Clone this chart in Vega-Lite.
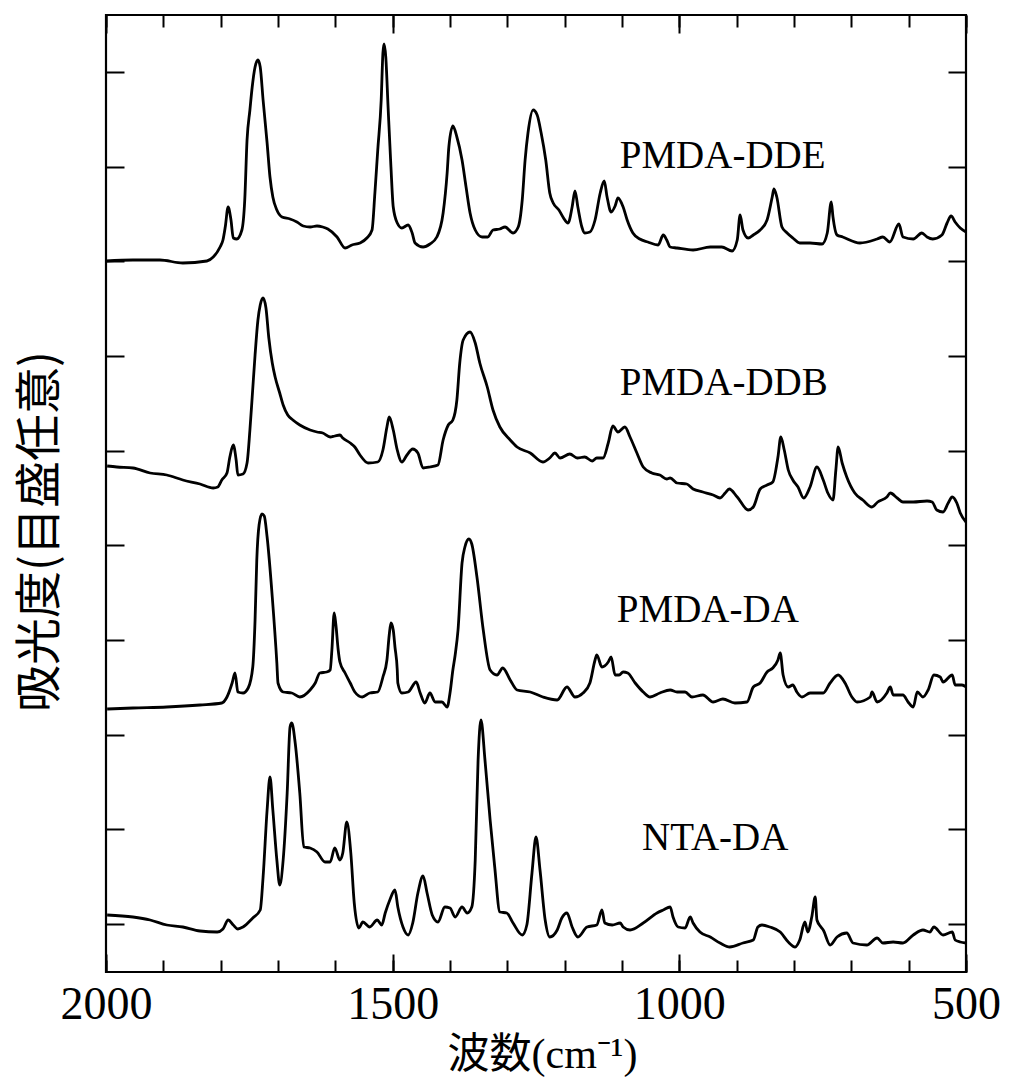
{
  "$schema": "https://vega.github.io/schema/vega-lite/v6.json",
  "width": 860,
  "height": 957,
  "autosize": {"type": "none"},
  "padding": {"left": 106, "top": 15, "right": 44, "bottom": 109},
  "background": "white",
  "config": {
    "view": {"stroke": "black", "strokeWidth": 2.2},
    "axis": {"domain": false, "grid": false, "tickColor": "black", "tickWidth": 2}
  },
  "datasets": {
    "spec": [
      {"s":"DDE","w":2000,"h":711},{"s":"DDE","w":1953,"h":712},{"s":"DDE","w":1906,"h":712},{"s":"DDE","w":1866,"h":709},{"s":"DDE","w":1824,"h":711},{"s":"DDE","w":1813,"h":715},{"s":"DDE","w":1801,"h":725},{"s":"DDE","w":1796,"h":732},{"s":"DDE","w":1792,"h":745},{"s":"DDE","w":1787,"h":765},{"s":"DDE","w":1782,"h":752},{"s":"DDE","w":1778,"h":734},{"s":"DDE","w":1772,"h":733},{"s":"DDE","w":1763,"h":742},{"s":"DDE","w":1758,"h":772},{"s":"DDE","w":1754,"h":832},{"s":"DDE","w":1749,"h":862},{"s":"DDE","w":1745,"h":885},{"s":"DDE","w":1740,"h":905},{"s":"DDE","w":1735,"h":912},{"s":"DDE","w":1731,"h":905},{"s":"DDE","w":1726,"h":872},{"s":"DDE","w":1719,"h":829},{"s":"DDE","w":1714,"h":795},{"s":"DDE","w":1709,"h":775},{"s":"DDE","w":1702,"h":762},{"s":"DDE","w":1693,"h":755},{"s":"DDE","w":1679,"h":753},{"s":"DDE","w":1667,"h":750},{"s":"DDE","w":1656,"h":746},{"s":"DDE","w":1644,"h":745},{"s":"DDE","w":1632,"h":746},{"s":"DDE","w":1622,"h":745},{"s":"DDE","w":1613,"h":743},
      {"s":"DDE","w":1597,"h":735},{"s":"DDE","w":1583,"h":724},{"s":"DDE","w":1571,"h":727},{"s":"DDE","w":1557,"h":729},{"s":"DDE","w":1545,"h":734},{"s":"DDE","w":1536,"h":742},{"s":"DDE","w":1531,"h":779},{"s":"DDE","w":1526,"h":822},{"s":"DDE","w":1520,"h":872},{"s":"DDE","w":1517,"h":919},{"s":"DDE","w":1515,"h":928},{"s":"DDE","w":1512,"h":915},{"s":"DDE","w":1508,"h":865},{"s":"DDE","w":1503,"h":805},{"s":"DDE","w":1499,"h":765},{"s":"DDE","w":1492,"h":749},{"s":"DDE","w":1484,"h":744},{"s":"DDE","w":1473,"h":747},{"s":"DDE","w":1466,"h":739},{"s":"DDE","w":1461,"h":729},{"s":"DDE","w":1447,"h":725},{"s":"DDE","w":1435,"h":728},{"s":"DDE","w":1423,"h":735},{"s":"DDE","w":1412,"h":759},{"s":"DDE","w":1405,"h":799},{"s":"DDE","w":1402,"h":825},{"s":"DDE","w":1395,"h":846},{"s":"DDE","w":1388,"h":835},{"s":"DDE","w":1379,"h":812},{"s":"DDE","w":1372,"h":785},{"s":"DDE","w":1365,"h":759},{"s":"DDE","w":1356,"h":742},{"s":"DDE","w":1344,"h":735},{"s":"DDE","w":1334,"h":735},{"s":"DDE","w":1325,"h":742},{"s":"DDE","w":1313,"h":743},{"s":"DDE","w":1304,"h":745},{"s":"DDE","w":1290,"h":739},{"s":"DDE","w":1281,"h":745},{"s":"DDE","w":1274,"h":772},{"s":"DDE","w":1269,"h":812},{"s":"DDE","w":1264,"h":839},{"s":"DDE","w":1255,"h":862},{"s":"DDE","w":1248,"h":857},{"s":"DDE","w":1241,"h":839},{"s":"DDE","w":1233,"h":812},{"s":"DDE","w":1226,"h":779},{"s":"DDE","w":1220,"h":769},{"s":"DDE","w":1210,"h":762},{"s":"DDE","w":1203,"h":755},{"s":"DDE","w":1194,"h":749},{"s":"DDE","w":1187,"h":765},{"s":"DDE","w":1182,"h":781},{"s":"DDE","w":1177,"h":765},{"s":"DDE","w":1170,"h":745},{"s":"DDE","w":1165,"h":739},{"s":"DDE","w":1156,"h":740},{"s":"DDE","w":1147,"h":752},{"s":"DDE","w":1138,"h":779},{"s":"DDE","w":1131,"h":791},{"s":"DDE","w":1126,"h":775},{"s":"DDE","w":1119,"h":760},{"s":"DDE","w":1112,"h":766},{"s":"DDE","w":1107,"h":774},{"s":"DDE","w":1098,"h":765},{"s":"DDE","w":1091,"h":752},{"s":"DDE","w":1081,"h":739},{"s":"DDE","w":1069,"h":733},{"s":"DDE","w":1055,"h":730},{"s":"DDE","w":1037,"h":727},{"s":"DDE","w":1028,"h":737},{"s":"DDE","w":1022,"h":732},{"s":"DDE","w":1016,"h":725},
      {"s":"DDE","w":1004,"h":724},{"s":"DDE","w":976,"h":722},{"s":"DDE","w":946,"h":725},{"s":"DDE","w":926,"h":725},{"s":"DDE","w":908,"h":721},{"s":"DDE","w":899,"h":732},{"s":"DDE","w":894,"h":757},{"s":"DDE","w":889,"h":742},{"s":"DDE","w":880,"h":734},{"s":"DDE","w":871,"h":737},{"s":"DDE","w":859,"h":742},{"s":"DDE","w":847,"h":752},{"s":"DDE","w":838,"h":775},{"s":"DDE","w":835,"h":783},{"s":"DDE","w":830,"h":775},{"s":"DDE","w":821,"h":745},{"s":"DDE","w":812,"h":739},{"s":"DDE","w":802,"h":734},{"s":"DDE","w":790,"h":729},{"s":"DDE","w":772,"h":729},{"s":"DDE","w":751,"h":728},{"s":"DDE","w":742,"h":739},{"s":"DDE","w":735,"h":770},{"s":"DDE","w":732,"h":755},{"s":"DDE","w":725,"h":737},{"s":"DDE","w":715,"h":735},{"s":"DDE","w":685,"h":729},{"s":"DDE","w":655,"h":733},{"s":"DDE","w":645,"h":735},{"s":"DDE","w":633,"h":730},{"s":"DDE","w":617,"h":748},{"s":"DDE","w":610,"h":735},{"s":"DDE","w":592,"h":733},{"s":"DDE","w":577,"h":739},{"s":"DDE","w":568,"h":735},{"s":"DDE","w":558,"h":733},{"s":"DDE","w":542,"h":737},{"s":"DDE","w":533,"h":749},{"s":"DDE","w":526,"h":756},{"s":"DDE","w":519,"h":750},{"s":"DDE","w":510,"h":744},{"s":"DDE","w":500,"h":740},

      {"s":"DDB","w":1998,"h":506},{"s":"DDB","w":1981,"h":505},{"s":"DDB","w":1953,"h":504},{"s":"DDB","w":1923,"h":499},{"s":"DDB","w":1894,"h":497},{"s":"DDB","w":1866,"h":492},{"s":"DDB","w":1836,"h":488},{"s":"DDB","w":1813,"h":484},{"s":"DDB","w":1805,"h":485},{"s":"DDB","w":1798,"h":492},{"s":"DDB","w":1789,"h":499},{"s":"DDB","w":1784,"h":515},{"s":"DDB","w":1778,"h":527},{"s":"DDB","w":1773,"h":512},{"s":"DDB","w":1770,"h":497},{"s":"DDB","w":1761,"h":498},{"s":"DDB","w":1754,"h":509},{"s":"DDB","w":1749,"h":542},{"s":"DDB","w":1745,"h":575},{"s":"DDB","w":1740,"h":617},{"s":"DDB","w":1735,"h":652},{"s":"DDB","w":1731,"h":667},{"s":"DDB","w":1726,"h":674},{"s":"DDB","w":1721,"h":664},{"s":"DDB","w":1716,"h":634},{"s":"DDB","w":1710,"h":609},{"s":"DDB","w":1705,"h":595},{"s":"DDB","w":1697,"h":579},{"s":"DDB","w":1691,"h":567},{"s":"DDB","w":1683,"h":557},{"s":"DDB","w":1674,"h":552},{"s":"DDB","w":1662,"h":547},{"s":"DDB","w":1644,"h":542},{"s":"DDB","w":1632,"h":540},{"s":"DDB","w":1622,"h":539},{"s":"DDB","w":1609,"h":535},{"s":"DDB","w":1601,"h":536},{"s":"DDB","w":1592,"h":537},
      {"s":"DDB","w":1587,"h":534},{"s":"DDB","w":1574,"h":529},{"s":"DDB","w":1566,"h":525},{"s":"DDB","w":1557,"h":517},{"s":"DDB","w":1543,"h":509},{"s":"DDB","w":1526,"h":510},{"s":"DDB","w":1517,"h":522},{"s":"DDB","w":1510,"h":545},{"s":"DDB","w":1506,"h":555},{"s":"DDB","w":1499,"h":542},{"s":"DDB","w":1492,"h":522},{"s":"DDB","w":1484,"h":510},{"s":"DDB","w":1475,"h":517},{"s":"DDB","w":1465,"h":523},{"s":"DDB","w":1456,"h":519},{"s":"DDB","w":1447,"h":504},{"s":"DDB","w":1435,"h":505},{"s":"DDB","w":1421,"h":507},{"s":"DDB","w":1412,"h":532},{"s":"DDB","w":1403,"h":547},{"s":"DDB","w":1395,"h":552},{"s":"DDB","w":1388,"h":572},{"s":"DDB","w":1383,"h":609},{"s":"DDB","w":1377,"h":632},{"s":"DDB","w":1365,"h":640},{"s":"DDB","w":1356,"h":629},{"s":"DDB","w":1348,"h":609},{"s":"DDB","w":1335,"h":585},{"s":"DDB","w":1325,"h":562},{"s":"DDB","w":1313,"h":545},{"s":"DDB","w":1295,"h":532},{"s":"DDB","w":1283,"h":525},{"s":"DDB","w":1260,"h":519},{"s":"DDB","w":1238,"h":510},{"s":"DDB","w":1226,"h":514},{"s":"DDB","w":1217,"h":519},{"s":"DDB","w":1208,"h":514},{"s":"DDB","w":1191,"h":518},{"s":"DDB","w":1178,"h":514},{"s":"DDB","w":1165,"h":515},{"s":"DDB","w":1152,"h":511},{"s":"DDB","w":1144,"h":514},{"s":"DDB","w":1133,"h":514},{"s":"DDB","w":1124,"h":529},{"s":"DDB","w":1116,"h":546},{"s":"DDB","w":1107,"h":540},{"s":"DDB","w":1095,"h":545},{"s":"DDB","w":1086,"h":535},{"s":"DDB","w":1074,"h":519},{"s":"DDB","w":1063,"h":505},{"s":"DDB","w":1048,"h":499},{"s":"DDB","w":1034,"h":497},{"s":"DDB","w":1022,"h":493},{"s":"DDB","w":1016,"h":494},
      {"s":"DDB","w":1004,"h":489},{"s":"DDB","w":987,"h":488},{"s":"DDB","w":976,"h":483},{"s":"DDB","w":959,"h":480},{"s":"DDB","w":941,"h":477},{"s":"DDB","w":929,"h":474},{"s":"DDB","w":920,"h":479},{"s":"DDB","w":913,"h":483},{"s":"DDB","w":899,"h":475},{"s":"DDB","w":880,"h":462},{"s":"DDB","w":871,"h":465},{"s":"DDB","w":859,"h":483},{"s":"DDB","w":847,"h":487},{"s":"DDB","w":837,"h":490},{"s":"DDB","w":828,"h":515},{"s":"DDB","w":823,"h":535},{"s":"DDB","w":817,"h":522},{"s":"DDB","w":810,"h":502},{"s":"DDB","w":802,"h":492},{"s":"DDB","w":793,"h":485},{"s":"DDB","w":783,"h":474},{"s":"DDB","w":772,"h":485},{"s":"DDB","w":760,"h":505},{"s":"DDB","w":749,"h":492},{"s":"DDB","w":741,"h":479},{"s":"DDB","w":732,"h":472},{"s":"DDB","w":727,"h":502},{"s":"DDB","w":723,"h":525},{"s":"DDB","w":716,"h":509},{"s":"DDB","w":708,"h":495},{"s":"DDB","w":694,"h":479},{"s":"DDB","w":680,"h":472},{"s":"DDB","w":664,"h":465},{"s":"DDB","w":654,"h":470},{"s":"DDB","w":638,"h":475},{"s":"DDB","w":632,"h":479},{"s":"DDB","w":620,"h":474},{"s":"DDB","w":610,"h":470},{"s":"DDB","w":592,"h":470},{"s":"DDB","w":568,"h":471},{"s":"DDB","w":559,"h":470},{"s":"DDB","w":551,"h":462},{"s":"DDB","w":540,"h":460},{"s":"DDB","w":531,"h":469},{"s":"DDB","w":524,"h":475},{"s":"DDB","w":516,"h":469},{"s":"DDB","w":510,"h":459},{"s":"DDB","w":500,"h":450},

      {"s":"DA","w":1998,"h":263},{"s":"DA","w":1953,"h":264},{"s":"DA","w":1894,"h":265},{"s":"DA","w":1836,"h":267},{"s":"DA","w":1798,"h":269},{"s":"DA","w":1789,"h":275},{"s":"DA","w":1780,"h":289},{"s":"DA","w":1775,"h":299},{"s":"DA","w":1770,"h":280},{"s":"DA","w":1761,"h":279},{"s":"DA","w":1752,"h":284},{"s":"DA","w":1744,"h":305},{"s":"DA","w":1740,"h":352},{"s":"DA","w":1737,"h":412},{"s":"DA","w":1733,"h":447},{"s":"DA","w":1728,"h":458},{"s":"DA","w":1724,"h":456},{"s":"DA","w":1719,"h":435},{"s":"DA","w":1710,"h":375},{"s":"DA","w":1702,"h":309},{"s":"DA","w":1700,"h":289},{"s":"DA","w":1691,"h":280},{"s":"DA","w":1676,"h":279},{"s":"DA","w":1662,"h":275},{"s":"DA","w":1644,"h":282},{"s":"DA","w":1635,"h":289},{"s":"DA","w":1627,"h":299},{"s":"DA","w":1615,"h":300},{"s":"DA","w":1609,"h":302},{"s":"DA","w":1606,"h":322},{"s":"DA","w":1602,"h":359},{"s":"DA","w":1599,"h":347},{"s":"DA","w":1595,"h":322},{"s":"DA","w":1592,"h":310},{"s":"DA","w":1583,"h":299},{"s":"DA","w":1574,"h":289},{"s":"DA","w":1566,"h":280},{"s":"DA","w":1553,"h":275},{"s":"DA","w":1540,"h":279},{"s":"DA","w":1526,"h":280},{"s":"DA","w":1517,"h":295},{"s":"DA","w":1510,"h":312},{"s":"DA","w":1506,"h":337},{"s":"DA","w":1503,"h":349},{"s":"DA","w":1499,"h":342},{"s":"DA","w":1496,"h":325},{"s":"DA","w":1492,"h":302},{"s":"DA","w":1491,"h":289},{"s":"DA","w":1484,"h":279},{"s":"DA","w":1473,"h":280},{"s":"DA","w":1459,"h":290},{"s":"DA","w":1452,"h":279},{"s":"DA","w":1444,"h":269},{"s":"DA","w":1435,"h":279},{"s":"DA","w":1426,"h":270},{"s":"DA","w":1414,"h":270},{"s":"DA","w":1405,"h":265},{"s":"DA","w":1400,"h":279},{"s":"DA","w":1395,"h":302},{"s":"DA","w":1391,"h":317},{"s":"DA","w":1386,"h":342},{"s":"DA","w":1379,"h":409},{"s":"DA","w":1374,"h":425},{"s":"DA","w":1367,"h":433},{"s":"DA","w":1362,"h":428},{"s":"DA","w":1353,"h":395},{"s":"DA","w":1342,"h":342},{"s":"DA","w":1330,"h":302},{"s":"DA","w":1318,"h":297},{"s":"DA","w":1308,"h":304},{"s":"DA","w":1295,"h":292},{"s":"DA","w":1283,"h":282},{"s":"DA","w":1260,"h":280},{"s":"DA","w":1238,"h":275},{"s":"DA","w":1213,"h":272},{"s":"DA","w":1196,"h":285},{"s":"DA","w":1182,"h":275},{"s":"DA","w":1168,"h":279},{"s":"DA","w":1156,"h":289},{"s":"DA","w":1147,"h":312},{"s":"DA","w":1144,"h":317},{"s":"DA","w":1135,"h":305},{"s":"DA","w":1124,"h":310},{"s":"DA","w":1119,"h":315},{"s":"DA","w":1112,"h":297},{"s":"DA","w":1105,"h":297},{"s":"DA","w":1098,"h":300},{"s":"DA","w":1090,"h":299},{"s":"DA","w":1077,"h":289},{"s":"DA","w":1063,"h":280},{"s":"DA","w":1051,"h":275},{"s":"DA","w":1034,"h":279},{"s":"DA","w":1016,"h":282},{"s":"DA","w":1004,"h":280},{"s":"DA","w":990,"h":280},{"s":"DA","w":978,"h":275},{"s":"DA","w":959,"h":277},{"s":"DA","w":941,"h":270},{"s":"DA","w":924,"h":273},{"s":"DA","w":903,"h":269},{"s":"DA","w":882,"h":270},{"s":"DA","w":871,"h":285},{"s":"DA","w":859,"h":289},{"s":"DA","w":847,"h":300},{"s":"DA","w":837,"h":304},{"s":"DA","w":828,"h":312},{"s":"DA","w":824,"h":319},{"s":"DA","w":819,"h":297},{"s":"DA","w":810,"h":285},{"s":"DA","w":802,"h":287},{"s":"DA","w":795,"h":280},{"s":"DA","w":786,"h":275},{"s":"DA","w":772,"h":279},{"s":"DA","w":749,"h":279},{"s":"DA","w":737,"h":289},{"s":"DA","w":723,"h":297},{"s":"DA","w":711,"h":289},{"s":"DA","w":699,"h":275},{"s":"DA","w":690,"h":270},{"s":"DA","w":667,"h":275},{"s":"DA","w":664,"h":280},{"s":"DA","w":655,"h":270},{"s":"DA","w":638,"h":279},{"s":"DA","w":632,"h":285},{"s":"DA","w":627,"h":277},{"s":"DA","w":610,"h":277},{"s":"DA","w":601,"h":270},{"s":"DA","w":592,"h":265},{"s":"DA","w":585,"h":280},{"s":"DA","w":575,"h":275},{"s":"DA","w":566,"h":282},{"s":"DA","w":556,"h":297},{"s":"DA","w":545,"h":295},{"s":"DA","w":540,"h":290},{"s":"DA","w":524,"h":297},{"s":"DA","w":519,"h":287},{"s":"DA","w":507,"h":287},{"s":"DA","w":500,"h":285},

      {"s":"NTA","w":1998,"h":57},{"s":"NTA","w":1953,"h":55},{"s":"NTA","w":1923,"h":52},{"s":"NTA","w":1894,"h":47},{"s":"NTA","w":1866,"h":45},{"s":"NTA","w":1836,"h":41},{"s":"NTA","w":1806,"h":40},{"s":"NTA","w":1796,"h":43},{"s":"NTA","w":1787,"h":52},{"s":"NTA","w":1778,"h":47},{"s":"NTA","w":1770,"h":43},{"s":"NTA","w":1761,"h":45},{"s":"NTA","w":1744,"h":54},{"s":"NTA","w":1731,"h":62},{"s":"NTA","w":1726,"h":95},{"s":"NTA","w":1719,"h":162},{"s":"NTA","w":1714,"h":195},{"s":"NTA","w":1709,"h":162},{"s":"NTA","w":1702,"h":112},{"s":"NTA","w":1697,"h":87},{"s":"NTA","w":1691,"h":112},{"s":"NTA","w":1684,"h":179},{"s":"NTA","w":1679,"h":245},{"s":"NTA","w":1676,"h":249},{"s":"NTA","w":1670,"h":229},{"s":"NTA","w":1662,"h":179},{"s":"NTA","w":1655,"h":125},{"s":"NTA","w":1644,"h":124},{"s":"NTA","w":1632,"h":120},{"s":"NTA","w":1618,"h":110},{"s":"NTA","w":1609,"h":110},{"s":"NTA","w":1601,"h":124},{"s":"NTA","w":1592,"h":112},{"s":"NTA","w":1587,"h":119},{"s":"NTA","w":1580,"h":150},{"s":"NTA","w":1573,"h":119},{"s":"NTA","w":1567,"h":69},{"s":"NTA","w":1559,"h":44},{"s":"NTA","w":1552,"h":50},{"s":"NTA","w":1540,"h":45},{"s":"NTA","w":1527,"h":52},{"s":"NTA","w":1519,"h":47},{"s":"NTA","w":1513,"h":59},{"s":"NTA","w":1505,"h":72},{"s":"NTA","w":1496,"h":82},{"s":"NTA","w":1491,"h":65},{"s":"NTA","w":1482,"h":45},{"s":"NTA","w":1473,"h":37},{"s":"NTA","w":1465,"h":49},{"s":"NTA","w":1456,"h":79},{"s":"NTA","w":1447,"h":96},{"s":"NTA","w":1440,"h":79},{"s":"NTA","w":1431,"h":57},{"s":"NTA","w":1421,"h":50},{"s":"NTA","w":1409,"h":65},{"s":"NTA","w":1400,"h":64},{"s":"NTA","w":1391,"h":55},{"s":"NTA","w":1379,"h":65},{"s":"NTA","w":1370,"h":59},{"s":"NTA","w":1362,"h":65},{"s":"NTA","w":1356,"h":112},{"s":"NTA","w":1351,"h":212},{"s":"NTA","w":1346,"h":252},{"s":"NTA","w":1339,"h":212},{"s":"NTA","w":1330,"h":152},{"s":"NTA","w":1322,"h":105},{"s":"NTA","w":1313,"h":60},{"s":"NTA","w":1301,"h":59},{"s":"NTA","w":1290,"h":49},{"s":"NTA","w":1274,"h":37},{"s":"NTA","w":1266,"h":47},{"s":"NTA","w":1257,"h":99},{"s":"NTA","w":1250,"h":135},{"s":"NTA","w":1243,"h":102},{"s":"NTA","w":1234,"h":52},{"s":"NTA","w":1226,"h":35},{"s":"NTA","w":1213,"h":42},{"s":"NTA","w":1205,"h":54},{"s":"NTA","w":1196,"h":59},{"s":"NTA","w":1187,"h":45},{"s":"NTA","w":1177,"h":35},{"s":"NTA","w":1161,"h":45},{"s":"NTA","w":1144,"h":47},{"s":"NTA","w":1135,"h":62},{"s":"NTA","w":1130,"h":49},{"s":"NTA","w":1117,"h":47},{"s":"NTA","w":1103,"h":49},{"s":"NTA","w":1098,"h":45},{"s":"NTA","w":1086,"h":42},{"s":"NTA","w":1063,"h":49},{"s":"NTA","w":1039,"h":59},{"s":"NTA","w":1028,"h":62},{"s":"NTA","w":1016,"h":65},{"s":"NTA","w":1011,"h":55},{"s":"NTA","w":1002,"h":45},{"s":"NTA","w":990,"h":44},{"s":"NTA","w":981,"h":55},{"s":"NTA","w":976,"h":49},{"s":"NTA","w":964,"h":40},{"s":"NTA","w":946,"h":35},{"s":"NTA","w":929,"h":29},{"s":"NTA","w":912,"h":25},{"s":"NTA","w":889,"h":29},{"s":"NTA","w":871,"h":32},{"s":"NTA","w":863,"h":45},{"s":"NTA","w":856,"h":47},{"s":"NTA","w":842,"h":45},{"s":"NTA","w":824,"h":40},{"s":"NTA","w":810,"h":30},{"s":"NTA","w":798,"h":25},{"s":"NTA","w":790,"h":32},{"s":"NTA","w":781,"h":50},{"s":"NTA","w":776,"h":40},{"s":"NTA","w":769,"h":55},{"s":"NTA","w":763,"h":75},{"s":"NTA","w":760,"h":52},{"s":"NTA","w":753,"h":45},{"s":"NTA","w":749,"h":42},{"s":"NTA","w":737,"h":27},{"s":"NTA","w":725,"h":35},{"s":"NTA","w":708,"h":39},{"s":"NTA","w":697,"h":29},{"s":"NTA","w":673,"h":27},{"s":"NTA","w":655,"h":34},{"s":"NTA","w":645,"h":29},{"s":"NTA","w":627,"h":30},{"s":"NTA","w":610,"h":29},{"s":"NTA","w":592,"h":37},{"s":"NTA","w":575,"h":42},{"s":"NTA","w":563,"h":40},{"s":"NTA","w":556,"h":45},{"s":"NTA","w":540,"h":37},{"s":"NTA","w":524,"h":40},{"s":"NTA","w":519,"h":32},{"s":"NTA","w":510,"h":30},{"s":"NTA","w":500,"h":29}
    ],
    "labels": [
      {"s":"DDE","w":1104,"h":804,"t":"PMDA-DDE"},
      {"s":"DDB","w":1104,"h":577,"t":"PMDA-DDB"},
      {"s":"DA","w":1109,"h":350,"t":"PMDA-DA"},
      {"s":"NTA","w":1065,"h":122,"t":"NTA-DA"}
    ]
  },
  "layer": [
    {
      "data": {"name": "spec"},
      "transform": [{"filter": "datum.s === 'DDE' || datum.s === 'DDB'"}],
      "mark": {"type": "line", "color": "black", "strokeWidth": 2.8, "interpolate": "monotone"},
      "encoding": {
        "x": {
          "field": "w", "type": "quantitative",
          "scale": {"domain": [500, 2000], "reverse": true, "nice": false, "zero": false},
          "axis": {
            "orient": "bottom",
            "values": [500,600,700,800,900,1000,1100,1200,1300,1400,1500,1600,1700,1800,1900,2000],
            "tickSize": -12,
            "labelExpr": "datum.value % 500 === 0 ? datum.label : ''",
            "format": "d",
            "labelFont": "Liberation Serif",
            "labelFontSize": 46,
            "labelColor": "black",
            "labelFlush": false,
            "labelOverlap": false,
            "labelPadding": 22,
            "title": "波数(cm⁻¹)",
            "titleFont": "Liberation Serif, Noto Sans CJK JP",
            "titleFontSize": 42,
            "titleFontWeight": "normal",
            "titleColor": "black",
            "titleX": 436,
            "titleY": 82,
            "titleAlign": "center",
            "titleBaseline": "middle"
          }
        },
        "y": {
          "field": "h", "type": "quantitative",
          "scale": {"domain": [0, 957], "nice": false, "zero": false},
          "axis": {
            "orient": "left",
            "values": [48,142.7,237.3,332,426.7,521.3,616,710.7,805.3,900],
            "tickSize": -18,
            "labels": false,
            "title": "吸光度(目盛任意)",
            "titleFont": "Noto Sans CJK JP",
            "titleFontSize": 47,
            "titleFontWeight": "normal",
            "titleColor": "black",
            "titleAngle": -90,
            "titleX": -66,
            "titleY": 516,
            "titleAlign": "center",
            "titleBaseline": "middle"
          }
        },
        "detail": {"field": "s", "type": "nominal"}
      }
    },
    {
      "data": {"name": "labels"},
      "transform": [{"filter": "datum.s === 'DDE' || datum.s === 'DDB'"}],
      "mark": {"type": "text", "font": "Liberation Serif", "fontSize": 39, "align": "left", "baseline": "alphabetic", "color": "black"},
      "encoding": {
        "x": {
          "field": "w", "type": "quantitative",
          "axis": {
            "orient": "top",
            "values": [500,600,700,800,900,1000,1100,1200,1300,1400,1500,1600,1700,1800,1900,2000],
            "tickSize": -12,
            "labels": false,
            "title": null
          }
        },
        "y": {
          "field": "h", "type": "quantitative",
          "axis": {
            "orient": "right",
            "values": [48,142.7,237.3,332,426.7,521.3,616,710.7,805.3,900],
            "tickSize": -18,
            "labels": false,
            "title": null
          }
        },
        "text": {"field": "t", "type": "nominal"}
      }
    },
    {
      "data": {"name": "spec"},
      "transform": [{"filter": "datum.s === 'DA' || datum.s === 'NTA'"}],
      "mark": {"type": "line", "color": "black", "strokeWidth": 2.8, "interpolate": "monotone"},
      "encoding": {
        "x": {
          "field": "w", "type": "quantitative",
          "axis": {
            "orient": "bottom",
            "values": [500,1000,1500,2000],
            "tickSize": -18,
            "labels": false,
            "title": null
          }
        },
        "y": {"field": "h", "type": "quantitative", "axis": null},
        "detail": {"field": "s", "type": "nominal"}
      }
    },
    {
      "data": {"name": "labels"},
      "transform": [{"filter": "datum.s === 'DA' || datum.s === 'NTA'"}],
      "mark": {"type": "text", "font": "Liberation Serif", "fontSize": 39, "align": "left", "baseline": "alphabetic", "color": "black"},
      "encoding": {
        "x": {
          "field": "w", "type": "quantitative",
          "axis": {
            "orient": "top",
            "values": [500,1000,1500,2000],
            "tickSize": -18,
            "labels": false,
            "title": null
          }
        },
        "y": {"field": "h", "type": "quantitative", "axis": null},
        "text": {"field": "t", "type": "nominal"}
      }
    }
  ],
  "resolve": {"axis": {"x": "independent", "y": "independent"}}
}
